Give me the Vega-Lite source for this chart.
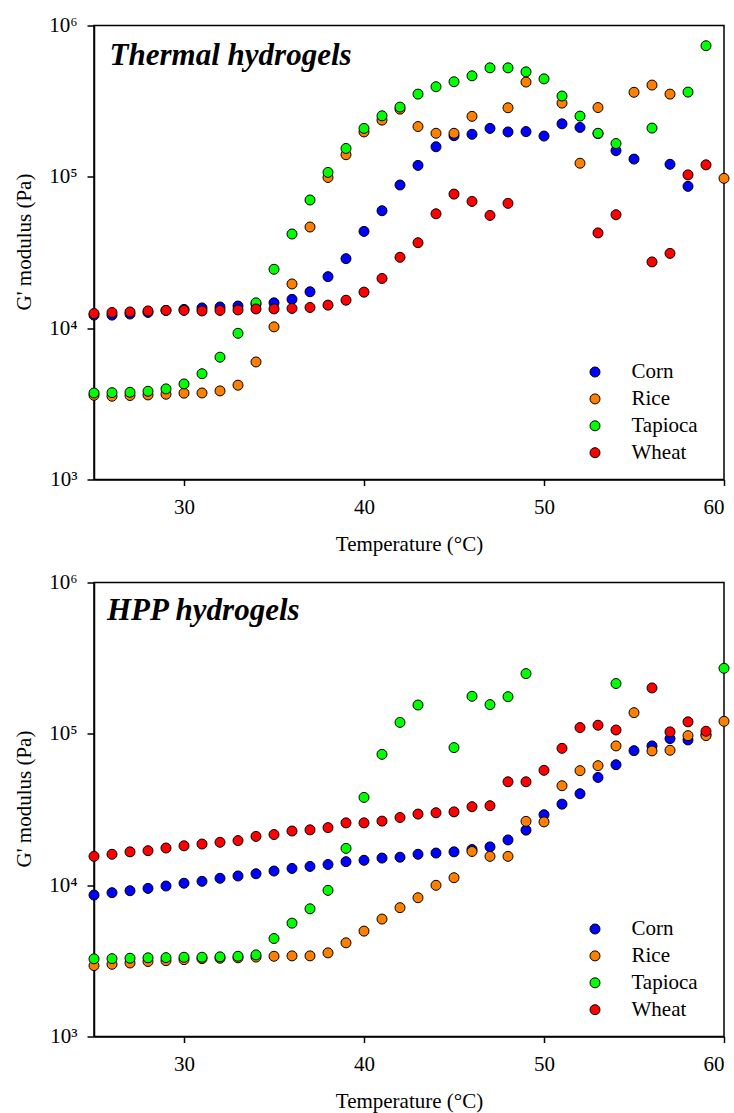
{
  "$schema": "https://vega.github.io/schema/vega-lite/v6.json",
  "background": "white",
  "padding": {"left": 12, "top": 13.5, "right": 2, "bottom": 0},
  "bounds": "flush",
  "spacing": 103,
  "data": {"values": [
    {"panel":"Thermal","starch":"Corn","T":25,"G":12200},{"panel":"Thermal","starch":"Corn","T":26,"G":12200},{"panel":"Thermal","starch":"Corn","T":27,"G":12400},{"panel":"Thermal","starch":"Corn","T":28,"G":12700},{"panel":"Thermal","starch":"Corn","T":29,"G":13100},{"panel":"Thermal","starch":"Corn","T":30,"G":13300},{"panel":"Thermal","starch":"Corn","T":31,"G":13600},{"panel":"Thermal","starch":"Corn","T":32,"G":13800},{"panel":"Thermal","starch":"Corn","T":33,"G":14000},{"panel":"Thermal","starch":"Corn","T":34,"G":14400},{"panel":"Thermal","starch":"Corn","T":35,"G":14700},{"panel":"Thermal","starch":"Corn","T":36,"G":15500},{"panel":"Thermal","starch":"Corn","T":37,"G":17400},{"panel":"Thermal","starch":"Corn","T":38,"G":21900},{"panel":"Thermal","starch":"Corn","T":39,"G":28800},{"panel":"Thermal","starch":"Corn","T":40,"G":43600},{"panel":"Thermal","starch":"Corn","T":41,"G":59700},{"panel":"Thermal","starch":"Corn","T":42,"G":88300},{"panel":"Thermal","starch":"Corn","T":43,"G":119000},{"panel":"Thermal","starch":"Corn","T":44,"G":158000},{"panel":"Thermal","starch":"Corn","T":45,"G":187000},{"panel":"Thermal","starch":"Corn","T":46,"G":191000},{"panel":"Thermal","starch":"Corn","T":47,"G":209000},{"panel":"Thermal","starch":"Corn","T":48,"G":198000},{"panel":"Thermal","starch":"Corn","T":49,"G":199000},{"panel":"Thermal","starch":"Corn","T":50,"G":186000},{"panel":"Thermal","starch":"Corn","T":51,"G":224000},{"panel":"Thermal","starch":"Corn","T":52,"G":212000},{"panel":"Thermal","starch":"Corn","T":53,"G":193000},{"panel":"Thermal","starch":"Corn","T":54,"G":149000},{"panel":"Thermal","starch":"Corn","T":55,"G":131000},{"panel":"Thermal","starch":"Corn","T":57,"G":121000},{"panel":"Thermal","starch":"Corn","T":58,"G":86500},
    {"panel":"Thermal","starch":"Rice","T":25,"G":3600},{"panel":"Thermal","starch":"Rice","T":26,"G":3550},{"panel":"Thermal","starch":"Rice","T":27,"G":3590},{"panel":"Thermal","starch":"Rice","T":28,"G":3620},{"panel":"Thermal","starch":"Rice","T":29,"G":3660},{"panel":"Thermal","starch":"Rice","T":30,"G":3720},{"panel":"Thermal","starch":"Rice","T":31,"G":3730},{"panel":"Thermal","starch":"Rice","T":32,"G":3850},{"panel":"Thermal","starch":"Rice","T":33,"G":4200},{"panel":"Thermal","starch":"Rice","T":34,"G":5980},{"panel":"Thermal","starch":"Rice","T":35,"G":10200},{"panel":"Thermal","starch":"Rice","T":36,"G":19600},{"panel":"Thermal","starch":"Rice","T":37,"G":46600},{"panel":"Thermal","starch":"Rice","T":38,"G":99000},{"panel":"Thermal","starch":"Rice","T":39,"G":140000},{"panel":"Thermal","starch":"Rice","T":40,"G":198000},{"panel":"Thermal","starch":"Rice","T":41,"G":237000},{"panel":"Thermal","starch":"Rice","T":42,"G":280000},{"panel":"Thermal","starch":"Rice","T":43,"G":215000},{"panel":"Thermal","starch":"Rice","T":44,"G":194000},{"panel":"Thermal","starch":"Rice","T":45,"G":194000},{"panel":"Thermal","starch":"Rice","T":46,"G":251000},{"panel":"Thermal","starch":"Rice","T":48,"G":286000},{"panel":"Thermal","starch":"Rice","T":49,"G":423000},{"panel":"Thermal","starch":"Rice","T":51,"G":307000},{"panel":"Thermal","starch":"Rice","T":52,"G":123000},{"panel":"Thermal","starch":"Rice","T":53,"G":287000},{"panel":"Thermal","starch":"Rice","T":55,"G":362000},{"panel":"Thermal","starch":"Rice","T":56,"G":404000},{"panel":"Thermal","starch":"Rice","T":57,"G":352000},{"panel":"Thermal","starch":"Rice","T":60,"G":97700},
    {"panel":"Thermal","starch":"Tapioca","T":25,"G":3730},{"panel":"Thermal","starch":"Tapioca","T":26,"G":3750},{"panel":"Thermal","starch":"Tapioca","T":27,"G":3770},{"panel":"Thermal","starch":"Tapioca","T":28,"G":3830},{"panel":"Thermal","starch":"Tapioca","T":29,"G":3970},{"panel":"Thermal","starch":"Tapioca","T":30,"G":4280},{"panel":"Thermal","starch":"Tapioca","T":31,"G":5000},{"panel":"Thermal","starch":"Tapioca","T":32,"G":6430},{"panel":"Thermal","starch":"Tapioca","T":33,"G":9250},{"panel":"Thermal","starch":"Tapioca","T":34,"G":14700},{"panel":"Thermal","starch":"Tapioca","T":35,"G":24500},{"panel":"Thermal","starch":"Tapioca","T":36,"G":41900},{"panel":"Thermal","starch":"Tapioca","T":37,"G":70300},{"panel":"Thermal","starch":"Tapioca","T":38,"G":107000},{"panel":"Thermal","starch":"Tapioca","T":39,"G":154000},{"panel":"Thermal","starch":"Tapioca","T":40,"G":209000},{"panel":"Thermal","starch":"Tapioca","T":41,"G":253000},{"panel":"Thermal","starch":"Tapioca","T":42,"G":289000},{"panel":"Thermal","starch":"Tapioca","T":43,"G":352000},{"panel":"Thermal","starch":"Tapioca","T":44,"G":394000},{"panel":"Thermal","starch":"Tapioca","T":45,"G":425000},{"panel":"Thermal","starch":"Tapioca","T":46,"G":465000},{"panel":"Thermal","starch":"Tapioca","T":47,"G":525000},{"panel":"Thermal","starch":"Tapioca","T":48,"G":525000},{"panel":"Thermal","starch":"Tapioca","T":49,"G":494000},{"panel":"Thermal","starch":"Tapioca","T":50,"G":444000},{"panel":"Thermal","starch":"Tapioca","T":51,"G":342000},{"panel":"Thermal","starch":"Tapioca","T":52,"G":252000},{"panel":"Thermal","starch":"Tapioca","T":53,"G":194000},{"panel":"Thermal","starch":"Tapioca","T":54,"G":166000},{"panel":"Thermal","starch":"Tapioca","T":56,"G":210000},{"panel":"Thermal","starch":"Tapioca","T":58,"G":363000},{"panel":"Thermal","starch":"Tapioca","T":59,"G":735000},
    {"panel":"Thermal","starch":"Wheat","T":25,"G":12500},{"panel":"Thermal","starch":"Wheat","T":26,"G":12700},{"panel":"Thermal","starch":"Wheat","T":27,"G":12800},{"panel":"Thermal","starch":"Wheat","T":28,"G":13000},{"panel":"Thermal","starch":"Wheat","T":29,"G":13100},{"panel":"Thermal","starch":"Wheat","T":30,"G":13100},{"panel":"Thermal","starch":"Wheat","T":31,"G":13000},{"panel":"Thermal","starch":"Wheat","T":32,"G":13100},{"panel":"Thermal","starch":"Wheat","T":33,"G":13200},{"panel":"Thermal","starch":"Wheat","T":34,"G":13400},{"panel":"Thermal","starch":"Wheat","T":35,"G":13400},{"panel":"Thermal","starch":"Wheat","T":36,"G":13500},{"panel":"Thermal","starch":"Wheat","T":37,"G":13700},{"panel":"Thermal","starch":"Wheat","T":38,"G":14200},{"panel":"Thermal","starch":"Wheat","T":39,"G":15300},{"panel":"Thermal","starch":"Wheat","T":40,"G":17300},{"panel":"Thermal","starch":"Wheat","T":41,"G":21300},{"panel":"Thermal","starch":"Wheat","T":42,"G":29400},{"panel":"Thermal","starch":"Wheat","T":43,"G":36700},{"panel":"Thermal","starch":"Wheat","T":44,"G":57000},{"panel":"Thermal","starch":"Wheat","T":45,"G":76900},{"panel":"Thermal","starch":"Wheat","T":46,"G":68800},{"panel":"Thermal","starch":"Wheat","T":47,"G":55600},{"panel":"Thermal","starch":"Wheat","T":48,"G":66800},{"panel":"Thermal","starch":"Wheat","T":53,"G":42600},{"panel":"Thermal","starch":"Wheat","T":54,"G":56200},{"panel":"Thermal","starch":"Wheat","T":56,"G":27400},{"panel":"Thermal","starch":"Wheat","T":57,"G":31200},{"panel":"Thermal","starch":"Wheat","T":58,"G":103000},{"panel":"Thermal","starch":"Wheat","T":59,"G":120000},
    {"panel":"HPP","starch":"Corn","T":25,"G":8600},{"panel":"HPP","starch":"Corn","T":26,"G":8920},{"panel":"HPP","starch":"Corn","T":27,"G":9190},{"panel":"HPP","starch":"Corn","T":28,"G":9520},{"panel":"HPP","starch":"Corn","T":29,"G":9870},{"panel":"HPP","starch":"Corn","T":30,"G":10300},{"panel":"HPP","starch":"Corn","T":31,"G":10600},{"panel":"HPP","starch":"Corn","T":32,"G":11100},{"panel":"HPP","starch":"Corn","T":33,"G":11500},{"panel":"HPP","starch":"Corn","T":34,"G":11900},{"panel":"HPP","starch":"Corn","T":35,"G":12400},{"panel":"HPP","starch":"Corn","T":36,"G":12900},{"panel":"HPP","starch":"Corn","T":37,"G":13300},{"panel":"HPP","starch":"Corn","T":38,"G":13700},{"panel":"HPP","starch":"Corn","T":39,"G":14300},{"panel":"HPP","starch":"Corn","T":40,"G":14600},{"panel":"HPP","starch":"Corn","T":41,"G":15100},{"panel":"HPP","starch":"Corn","T":42,"G":15300},{"panel":"HPP","starch":"Corn","T":43,"G":16000},{"panel":"HPP","starch":"Corn","T":44,"G":16300},{"panel":"HPP","starch":"Corn","T":45,"G":16600},{"panel":"HPP","starch":"Corn","T":46,"G":17200},{"panel":"HPP","starch":"Corn","T":47,"G":17900},{"panel":"HPP","starch":"Corn","T":48,"G":19900},{"panel":"HPP","starch":"Corn","T":49,"G":23100},{"panel":"HPP","starch":"Corn","T":50,"G":29200},{"panel":"HPP","starch":"Corn","T":51,"G":34300},{"panel":"HPP","starch":"Corn","T":52,"G":40200},{"panel":"HPP","starch":"Corn","T":53,"G":51500},{"panel":"HPP","starch":"Corn","T":54,"G":62500},{"panel":"HPP","starch":"Corn","T":55,"G":77400},{"panel":"HPP","starch":"Corn","T":56,"G":83200},{"panel":"HPP","starch":"Corn","T":57,"G":93000},{"panel":"HPP","starch":"Corn","T":58,"G":91100},{"panel":"HPP","starch":"Corn","T":59,"G":99000},
    {"panel":"HPP","starch":"Rice","T":25,"G":2940},{"panel":"HPP","starch":"Rice","T":26,"G":3000},{"panel":"HPP","starch":"Rice","T":27,"G":3060},{"panel":"HPP","starch":"Rice","T":28,"G":3130},{"panel":"HPP","starch":"Rice","T":29,"G":3170},{"panel":"HPP","starch":"Rice","T":30,"G":3220},{"panel":"HPP","starch":"Rice","T":31,"G":3270},{"panel":"HPP","starch":"Rice","T":32,"G":3290},{"panel":"HPP","starch":"Rice","T":33,"G":3310},{"panel":"HPP","starch":"Rice","T":34,"G":3350},{"panel":"HPP","starch":"Rice","T":35,"G":3390},{"panel":"HPP","starch":"Rice","T":36,"G":3410},{"panel":"HPP","starch":"Rice","T":37,"G":3410},{"panel":"HPP","starch":"Rice","T":38,"G":3570},{"panel":"HPP","starch":"Rice","T":39,"G":4160},{"panel":"HPP","starch":"Rice","T":40,"G":4970},{"panel":"HPP","starch":"Rice","T":41,"G":5970},{"panel":"HPP","starch":"Rice","T":42,"G":7100},{"panel":"HPP","starch":"Rice","T":43,"G":8260},{"panel":"HPP","starch":"Rice","T":44,"G":9980},{"panel":"HPP","starch":"Rice","T":45,"G":11200},{"panel":"HPP","starch":"Rice","T":46,"G":16700},{"panel":"HPP","starch":"Rice","T":47,"G":15500},{"panel":"HPP","starch":"Rice","T":48,"G":15500},{"panel":"HPP","starch":"Rice","T":49,"G":26400},{"panel":"HPP","starch":"Rice","T":50,"G":26200},{"panel":"HPP","starch":"Rice","T":51,"G":45400},{"panel":"HPP","starch":"Rice","T":52,"G":57100},{"panel":"HPP","starch":"Rice","T":53,"G":61600},{"panel":"HPP","starch":"Rice","T":54,"G":83200},{"panel":"HPP","starch":"Rice","T":55,"G":138000},{"panel":"HPP","starch":"Rice","T":56,"G":77100},{"panel":"HPP","starch":"Rice","T":57,"G":77900},{"panel":"HPP","starch":"Rice","T":58,"G":97300},{"panel":"HPP","starch":"Rice","T":59,"G":97300},{"panel":"HPP","starch":"Rice","T":60,"G":121000},
    {"panel":"HPP","starch":"Tapioca","T":25,"G":3260},{"panel":"HPP","starch":"Tapioca","T":26,"G":3270},{"panel":"HPP","starch":"Tapioca","T":27,"G":3290},{"panel":"HPP","starch":"Tapioca","T":28,"G":3310},{"panel":"HPP","starch":"Tapioca","T":29,"G":3320},{"panel":"HPP","starch":"Tapioca","T":30,"G":3340},{"panel":"HPP","starch":"Tapioca","T":31,"G":3340},{"panel":"HPP","starch":"Tapioca","T":32,"G":3360},{"panel":"HPP","starch":"Tapioca","T":33,"G":3390},{"panel":"HPP","starch":"Tapioca","T":34,"G":3460},{"panel":"HPP","starch":"Tapioca","T":35,"G":4440},{"panel":"HPP","starch":"Tapioca","T":36,"G":5610},{"panel":"HPP","starch":"Tapioca","T":37,"G":6980},{"panel":"HPP","starch":"Tapioca","T":38,"G":9240},{"panel":"HPP","starch":"Tapioca","T":39,"G":17500},{"panel":"HPP","starch":"Tapioca","T":40,"G":38000},{"panel":"HPP","starch":"Tapioca","T":41,"G":73200},{"panel":"HPP","starch":"Tapioca","T":42,"G":119000},{"panel":"HPP","starch":"Tapioca","T":43,"G":155000},{"panel":"HPP","starch":"Tapioca","T":45,"G":81100},{"panel":"HPP","starch":"Tapioca","T":46,"G":177000},{"panel":"HPP","starch":"Tapioca","T":47,"G":156000},{"panel":"HPP","starch":"Tapioca","T":48,"G":176000},{"panel":"HPP","starch":"Tapioca","T":49,"G":250000},{"panel":"HPP","starch":"Tapioca","T":54,"G":215000},{"panel":"HPP","starch":"Tapioca","T":60,"G":271000},
    {"panel":"HPP","starch":"Wheat","T":25,"G":15500},{"panel":"HPP","starch":"Wheat","T":26,"G":16000},{"panel":"HPP","starch":"Wheat","T":27,"G":16600},{"panel":"HPP","starch":"Wheat","T":28,"G":16900},{"panel":"HPP","starch":"Wheat","T":29,"G":17600},{"panel":"HPP","starch":"Wheat","T":30,"G":18200},{"panel":"HPP","starch":"Wheat","T":31,"G":18700},{"panel":"HPP","starch":"Wheat","T":32,"G":19200},{"panel":"HPP","starch":"Wheat","T":33,"G":19700},{"panel":"HPP","starch":"Wheat","T":34,"G":21000},{"panel":"HPP","starch":"Wheat","T":35,"G":21600},{"panel":"HPP","starch":"Wheat","T":36,"G":22800},{"panel":"HPP","starch":"Wheat","T":37,"G":23200},{"panel":"HPP","starch":"Wheat","T":38,"G":24000},{"panel":"HPP","starch":"Wheat","T":39,"G":25800},{"panel":"HPP","starch":"Wheat","T":40,"G":25800},{"panel":"HPP","starch":"Wheat","T":41,"G":26500},{"panel":"HPP","starch":"Wheat","T":42,"G":28000},{"panel":"HPP","starch":"Wheat","T":43,"G":29500},{"panel":"HPP","starch":"Wheat","T":44,"G":30100},{"panel":"HPP","starch":"Wheat","T":45,"G":30500},{"panel":"HPP","starch":"Wheat","T":46,"G":33000},{"panel":"HPP","starch":"Wheat","T":47,"G":33500},{"panel":"HPP","starch":"Wheat","T":48,"G":48200},{"panel":"HPP","starch":"Wheat","T":49,"G":48200},{"panel":"HPP","starch":"Wheat","T":50,"G":57400},{"panel":"HPP","starch":"Wheat","T":51,"G":80200},{"panel":"HPP","starch":"Wheat","T":52,"G":110000},{"panel":"HPP","starch":"Wheat","T":53,"G":114000},{"panel":"HPP","starch":"Wheat","T":54,"G":106000},{"panel":"HPP","starch":"Wheat","T":56,"G":201000},{"panel":"HPP","starch":"Wheat","T":57,"G":103000},{"panel":"HPP","starch":"Wheat","T":58,"G":120000},{"panel":"HPP","starch":"Wheat","T":59,"G":104000}
  ]},
  "config": {
    "font": "Liberation Serif",
    "view": {"stroke": "black", "strokeWidth": 1.5},
    "axis": {
      "grid": false,
      "domainColor": "black", "domainWidth": 1.5,
      "tickColor": "black", "tickWidth": 1.5,
      "labelFont": "Liberation Serif", "labelFontSize": 21, "labelColor": "black",
      "titleFont": "Liberation Serif", "titleFontSize": 21, "titleFontWeight": "normal", "titleColor": "black"
    },
    "axisX": {"tickSize": 6, "labelPadding": 11, "titlePadding": 16},
    "axisY": {"tickSize": 7, "labelPadding": 10, "titlePadding": 14},
    "legend": {
      "orient": "none", "legendX": 490.5, "legendY": 336, "padding": 0,
      "symbolType": "circle", "symbolSize": 100, "symbolStrokeColor": "black", "symbolStrokeWidth": 1, "symbolOpacity": 1,
      "labelFont": "Liberation Serif", "labelFontSize": 21, "labelColor": "black", "labelOffset": 26, "rowPadding": 4.9
    },
    "title": {"font": "Liberation Serif", "fontSize": 31, "fontStyle": "italic", "fontWeight": "bold", "color": "black", "anchor": "start", "frame": "group", "baseline": "alphabetic"}
  },
  "resolve": {"scale": {"color": "independent"}, "legend": {"color": "independent"}},
  "vconcat": [
    {
      "width": 630, "height": 454,
      "title": {"text": "Thermal hydrogels", "offset": -57, "dx": 15.6},
      "transform": [{"filter": "datum.panel == 'Thermal'"}],
      "mark": {"type": "point", "shape": "circle", "filled": true, "size": 100, "stroke": "black", "strokeWidth": 1, "opacity": 1},
      "encoding": {
        "x": {"field": "T", "type": "quantitative", "scale": {"domain": [25, 60], "nice": false, "zero": false}, "axis": {"values": [30, 40, 50, 60], "title": "Temperature (°C)"}},
        "y": {"field": "G", "type": "quantitative", "scale": {"type": "log", "domain": [1000, 1000000], "nice": false}, "axis": {"values": [1000, 10000, 100000, 1000000], "labelExpr": "datum.value == 1000 ? '10³' : datum.value == 10000 ? '10⁴' : datum.value == 100000 ? '10⁵' : '10⁶'", "title": "G' modulus (Pa)", "titleY": 216}},
        "color": {"field": "starch", "type": "nominal", "scale": {"domain": ["Corn", "Rice", "Tapioca", "Wheat"], "range": ["#0000ff", "#ff8000", "#00ff00", "#ff0000"]}, "legend": {"title": null}}
      }
    },
    {
      "width": 630, "height": 454,
      "title": {"text": "HPP hydrogels", "offset": -55, "dx": 13},
      "transform": [{"filter": "datum.panel == 'HPP'"}],
      "mark": {"type": "point", "shape": "circle", "filled": true, "size": 100, "stroke": "black", "strokeWidth": 1, "opacity": 1},
      "encoding": {
        "x": {"field": "T", "type": "quantitative", "scale": {"domain": [25, 60], "nice": false, "zero": false}, "axis": {"values": [30, 40, 50, 60], "title": "Temperature (°C)"}},
        "y": {"field": "G", "type": "quantitative", "scale": {"type": "log", "domain": [1000, 1000000], "nice": false}, "axis": {"values": [1000, 10000, 100000, 1000000], "labelExpr": "datum.value == 1000 ? '10³' : datum.value == 10000 ? '10⁴' : datum.value == 100000 ? '10⁵' : '10⁶'", "title": "G' modulus (Pa)", "titleY": 216}},
        "color": {"field": "starch", "type": "nominal", "scale": {"domain": ["Corn", "Rice", "Tapioca", "Wheat"], "range": ["#0000ff", "#ff8000", "#00ff00", "#ff0000"]}, "legend": {"title": null}}
      }
    }
  ]
}
